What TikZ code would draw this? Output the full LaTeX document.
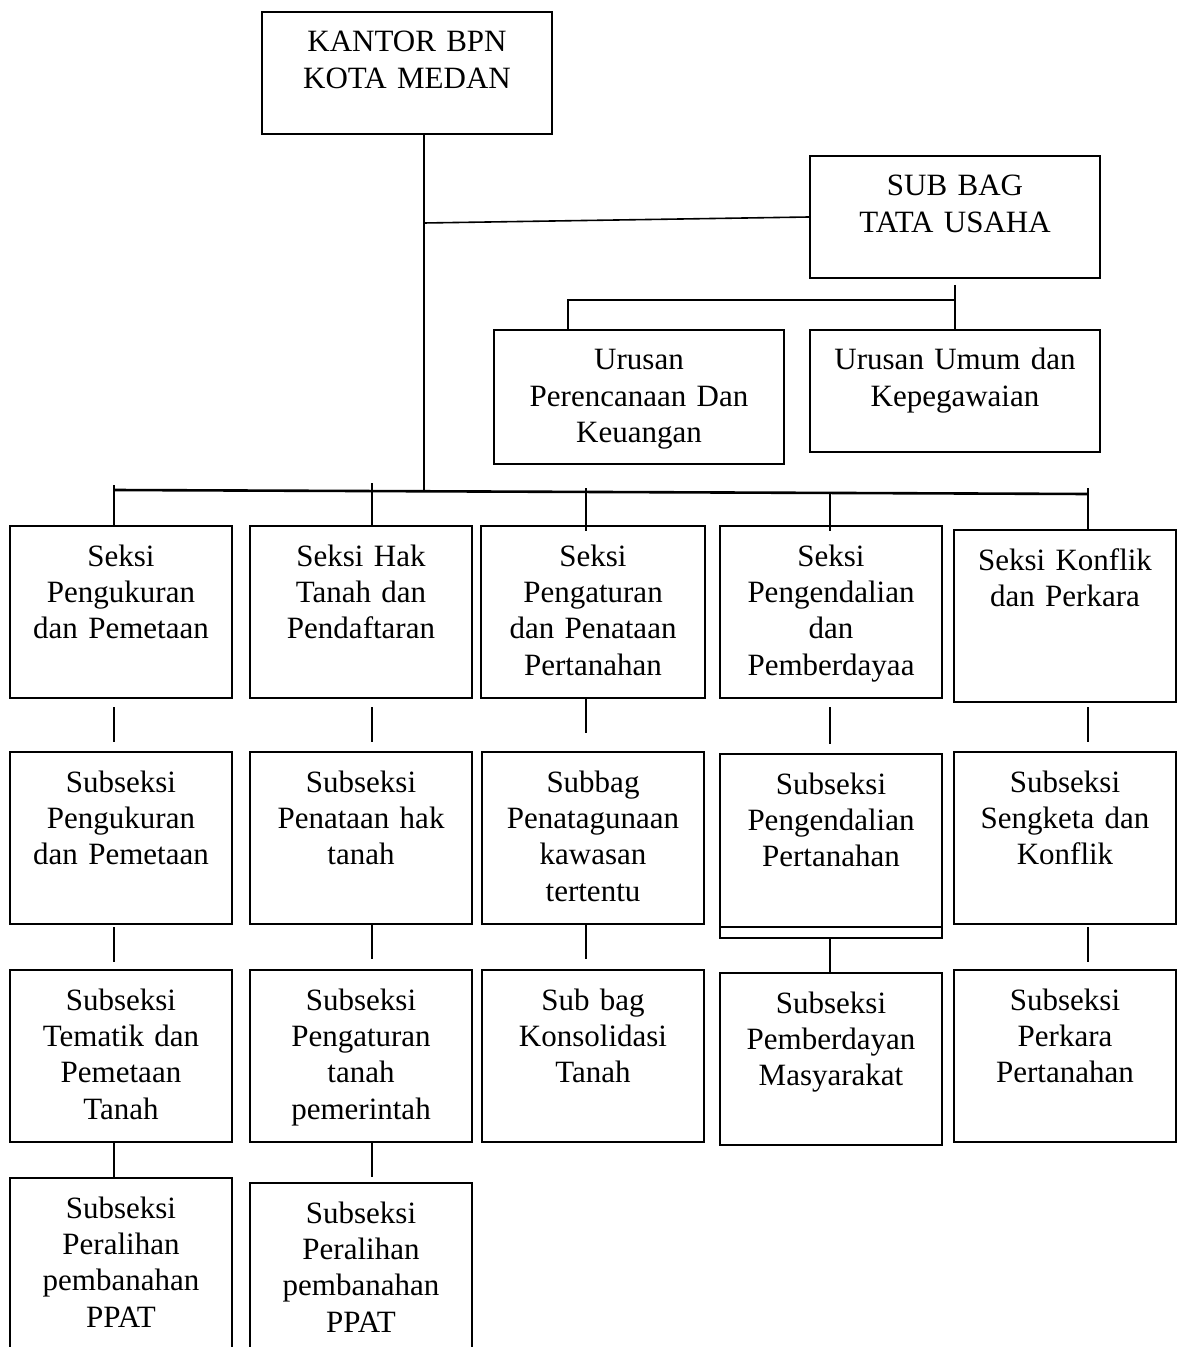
\documentclass[tikz,border=0pt]{standalone}
\usepackage{fontspec}
\setmainfont{Liberation Serif}
\tikzset{
  box/.style={draw,line width=1pt,anchor=north,inner sep=0pt,align=center,text width=111pt,text height=20pt,text depth=66pt,font=\fontsize{15.5pt}{18.2pt}\selectfont},
  wide/.style={text width=145pt,text depth=41pt},
  link/.style={line width=0.8pt}
}
\begin{document}
\begin{tikzpicture}[x=0.5pt,y=-0.5pt]
\clip (0,0) rectangle (1181,1347);
\node[box,wide] at (407,11) (kantor) {KANTOR BPN\\KOTA MEDAN};
\node[box,wide] at (955,155) (tu) {SUB BAG\\TATA USAHA};
\node[box,wide,text depth=47pt] at (639,329) (ur1) {Urusan\\Perencanaan Dan\\Keuangan};
\node[box,wide] at (955,329) (ur2) {Urusan Umum dan\\Kepegawaian};
% seksi
\node[box] at (121,525) (s1) {Seksi\\Pengukuran\\dan Pemetaan};
\node[box] at (361,525) (s2) {Seksi Hak\\Tanah dan\\Pendaftaran};
\node[box,text width=112pt] at (593,525) (s3) {Seksi\\Pengaturan\\dan Penataan\\Pertanahan};
\node[box] at (831,525) (s4) {Seksi\\Pengendalian\\dan\\Pemberdayaa};
\node[box] at (1065,529) (s5) {Seksi Konflik\\dan Perkara};
% subseksi
\node[box] at (121,751) (ss11) {Subseksi\\Pengukuran\\dan Pemetaan};
\node[box] at (361,751) (ss21) {Subseksi\\Penataan hak\\tanah};
\node[box] at (593,751) (ss31) {Subbag\\Penatagunaan\\kawasan\\tertentu};
\node[box,text depth=72pt] at (831,753) (ss41) {Subseksi\\Pengendalian\\Pertanahan};
\node[box] at (1065,751) (ss51) {Subseksi\\Sengketa dan\\Konflik};
\node[box] at (121,969) (ss12) {Subseksi\\Tematik dan\\Pemetaan\\Tanah};
\node[box] at (361,969) (ss22) {Subseksi\\Pengaturan\\tanah\\pemerintah};
\node[box] at (593,969) (ss32) {Sub bag\\Konsolidasi\\Tanah};
\node[box] at (831,972) (ss42) {Subseksi\\Pemberdayan\\Masyarakat};
\node[box] at (1065,969) (ss52) {Subseksi\\Perkara\\Pertanahan};
\node[box,text depth=100pt] at (121,1177) (ss13) {Subseksi\\Peralihan\\pembanahan\\PPAT};
\node[box,text depth=100pt] at (361,1182) (ss23) {Subseksi\\Peralihan\\pembanahan\\PPAT};
\draw[line width=1pt] ([yshift=6pt]ss41.south west) -- ([yshift=6pt]ss41.south east);
% garis
\coordinate (trunk) at (424,490);
\coordinate (tujoin) at (424,223);
\coordinate (ub) at (955,300);
\coordinate (ul) at (568,300);
\coordinate (busL) at (114,490);
\coordinate (busR) at (1088,494);
\coordinate (b1) at (114,485);
\coordinate (b2) at (372,483);
\coordinate (b3) at (586,488);
\coordinate (b4) at (830,493);
\coordinate (b5) at (1088,488);
\draw[link] (trunk |- kantor.south) -- (trunk);
\draw[link] (tujoin) -- (tu.west);
\draw[link] ([yshift=-3pt]tu.south) -- (ur2.north);
\draw[link] (ub) -- (ul) -- (ul |- ur1.north);
\draw[line width=1.3pt] (busL) -- (busR);
\draw[link] (b1) -- (b1 |- s1.north);
\draw[link] (b2) -- (b2 |- s2.north);
\draw[link,shorten >=-3pt] (b3) -- (b3 |- s3.north);
\draw[link,shorten >=-3pt] (b4) -- (b4 |- s4.north);
\draw[link] (b5) -- (b5 |- s5.north);
\draw[link,shorten <=4pt,shorten >=4.5pt] (s1.south -| b1) -- (ss11.north -| b1);
\draw[link,shorten <=4pt,shorten >=4.5pt] (s2.south -| b2) -- (ss21.north -| b2);
\draw[link,shorten >=9pt] (s3.south -| b3) -- (ss31.north -| b3);
\draw[link,shorten <=4pt,shorten >=4.5pt] (s4.south -| b4) -- (ss41.north -| b4);
\draw[link,shorten <=2pt,shorten >=4.5pt] (s5.south -| b5) -- (ss51.north -| b5);
\draw[link,shorten <=1pt,shorten >=3.5pt] (ss11.south -| b1) -- (ss12.north -| b1);
\draw[link,shorten >=5pt] (ss21.south -| b2) -- (ss22.north -| b2);
\draw[link,shorten >=5pt] (ss31.south -| b3) -- (ss32.north -| b3);
\draw[link] (ss41.south -| b4) -- (ss42.north -| b4);
\draw[link,shorten <=1pt,shorten >=3.5pt] (ss51.south -| b5) -- (ss52.north -| b5);
\draw[link] (ss12.south -| b1) -- (ss13.north -| b1);
\draw[link,shorten >=2.5pt] (ss22.south -| b2) -- (ss23.north -| b2);
\end{tikzpicture}
\end{document}
